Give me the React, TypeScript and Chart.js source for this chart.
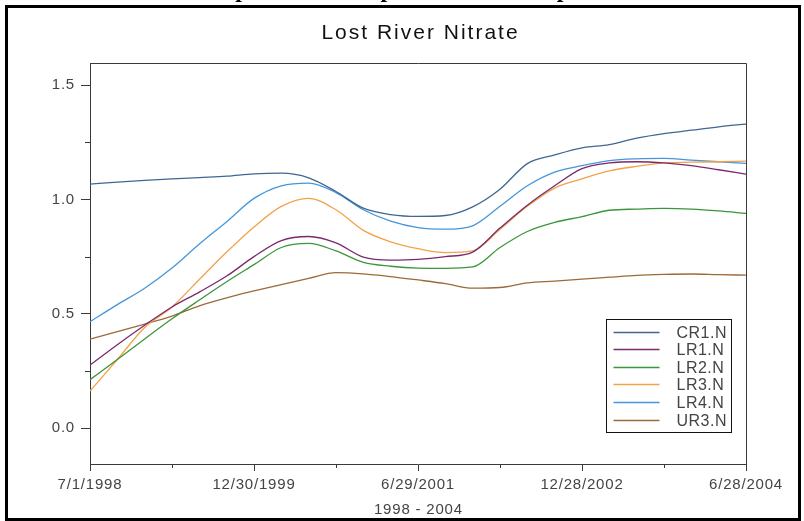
import React, { useEffect, useRef } from "react";
import { Chart, registerables } from "chart.js";

Chart.register(...registerables);

// ---------- data ----------
const pageTitle = "Example Trend Graph for Total Phosphorus";
const chartTitle = "Lost River Nitrate";
const xAxisTitle = "1998 - 2004";

// decimal years, every quarter year from 7/1/1998 to 6/28/2004
const years = [
  1998.5, 1998.75, 1999.0, 1999.25, 1999.5, 1999.75, 2000.0, 2000.25, 2000.5,
  2000.75, 2001.0, 2001.25, 2001.5, 2001.75, 2002.0, 2002.25, 2002.5, 2002.75,
  2003.0, 2003.25, 2003.5, 2003.75, 2004.0, 2004.25, 2004.5,
];

const cr1N = [
  1.067, 1.076, 1.084, 1.09, 1.096, 1.102, 1.112, 1.115, 1.095, 1.035, 0.962,
  0.934, 0.926, 0.93, 0.968, 1.045, 1.157, 1.195, 1.226, 1.24, 1.268, 1.288,
  1.303, 1.318, 1.33,
];
const lr1N = [
  0.276, 0.365, 0.45, 0.53, 0.595, 0.665, 0.75, 0.82, 0.838, 0.81, 0.748,
  0.735, 0.738, 0.75, 0.77, 0.875, 0.975, 1.06, 1.135, 1.16, 1.165, 1.16,
  1.148, 1.13, 1.111,
];
const lr2N = [
  0.212, 0.3, 0.39, 0.478, 0.56, 0.64, 0.715, 0.79, 0.808, 0.775, 0.725,
  0.708, 0.7, 0.699, 0.705, 0.79, 0.86, 0.9, 0.925, 0.953, 0.958, 0.961,
  0.958, 0.95, 0.939,
];
const lr3N = [
  0.162, 0.3, 0.44, 0.53, 0.65, 0.77, 0.88, 0.97, 1.005, 0.955, 0.865, 0.815,
  0.785, 0.768, 0.775, 0.87, 0.97, 1.05, 1.09, 1.125, 1.145, 1.16, 1.163,
  1.165, 1.168,
];
const lr4N = [
  0.465, 0.54, 0.612, 0.7, 0.805, 0.903, 1.005, 1.06, 1.072, 1.03, 0.955,
  0.905, 0.877, 0.87, 0.885, 0.97, 1.06, 1.12, 1.148, 1.17, 1.178, 1.18,
  1.172, 1.165, 1.158,
];
const ur3N = [
  0.389, 0.422, 0.455, 0.49, 0.535, 0.57, 0.6, 0.628, 0.655, 0.68, 0.675,
  0.663, 0.648, 0.632, 0.612, 0.615, 0.635, 0.643, 0.652, 0.66, 0.668, 0.672,
  0.674, 0.671, 0.669,
];

const seriesNames = ["CR1.N", "LR1.N", "LR2.N", "LR3.N", "LR4.N", "UR3.N"];
const seriesValues = [cr1N, lr1N, lr2N, lr3N, lr4N, ur3N];
const seriesColors = ["#3f6791", "#7a2a6c", "#3a963a", "#f2a24a", "#4596da", "#9c6a38"];

const xTickValues = [1998.5, 1999.25, 2000.0, 2000.75, 2001.5, 2002.25, 2003.0, 2003.75, 2004.5];
const xTickLabels = ["7/1/1998", "", "12/30/1999", "", "6/29/2001", "", "12/28/2002", "", "6/28/2004"];
const yTickValues = [0, 0.25, 0.5, 0.75, 1.0, 1.25, 1.5];
const yTickLabels = ["0.0", "", "0.5", "", "1.0", "", "1.5"];
const yMin = -0.157;
const yMax = 1.597;

// ---------- styles ----------
const FONT = '"Liberation Sans", Arial, sans-serif';
const AXIS = "#3a3a3a";
const TEXT = "#444444";

const decorPlugin = {
  id: "decor",
  beforeUpdate(chart: any) {
    chart.ctx.letterSpacing = "0.8px";
  },
  beforeDraw(chart: any) {
    chart.ctx.letterSpacing = "0.8px";
  },
  afterDraw(chart: any) {
    const ctx = chart.ctx as CanvasRenderingContext2D;
    const a = chart.chartArea;
    const xs = chart.scales.x;
    const ys = chart.scales.y;
    ctx.save();
    // top & right frame of plot area
    ctx.strokeStyle = AXIS;
    ctx.lineWidth = 1;
    ctx.beginPath();
    ctx.moveTo(Math.round(a.left), Math.round(a.top) + 0.5);
    ctx.lineTo(Math.round(a.right) + 0.5, Math.round(a.top) + 0.5);
    ctx.lineTo(Math.round(a.right) + 0.5, Math.round(a.bottom));
    ctx.stroke();
    // minor ticks
    ctx.beginPath();
    xTickValues.forEach((v, i) => {
      if (xTickLabels[i]) return;
      const px = Math.round(xs.getPixelForValue(v)) + 0.5;
      ctx.moveTo(px, a.bottom);
      ctx.lineTo(px, a.bottom + 4);
    });
    yTickValues.forEach((v, i) => {
      if (yTickLabels[i]) return;
      const py = Math.round(ys.getPixelForValue(v)) + 0.5;
      ctx.moveTo(a.left - 5, py);
      ctx.lineTo(a.left, py);
    });
    ctx.stroke();

    // chart title
    (ctx as any).letterSpacing = "2px";
    ctx.font = `21px ${FONT}`;
    ctx.fillStyle = "#111";
    ctx.textAlign = "left";
    ctx.textBaseline = "alphabetic";
    const tw = ctx.measureText(chartTitle).width - 2;
    ctx.fillText(chartTitle, (a.left + a.right) / 2 + 1.5 - tw / 2, 38.7);

    // x axis title
    (ctx as any).letterSpacing = "0.8px";
    ctx.font = `15px ${FONT}`;
    ctx.fillStyle = TEXT;
    const aw = ctx.measureText(xAxisTitle).width - 0.8;
    ctx.fillText(xAxisTitle, (a.left + a.right) / 2 - aw / 2, a.bottom + 50);

    // legend
    const bw = 125;
    const bh = 113;
    const bx = Math.round(a.right - 15 - bw) + 0.5;
    const by = Math.round(a.bottom - 32 - bh) + 0.5;
    ctx.fillStyle = "#ffffff";
    ctx.fillRect(bx, by, bw, bh);
    ctx.strokeStyle = "#111";
    ctx.lineWidth = 1;
    ctx.strokeRect(bx, by, bw, bh);
    ctx.font = `16px ${FONT}`;
    (ctx as any).letterSpacing = "0.5px";
    ctx.textBaseline = "middle";
    chart.data.datasets.forEach((ds: any, i: number) => {
      const ry = Math.round(by + 12 + i * 17.6) + 0.5;
      ctx.strokeStyle = ds.borderColor;
      ctx.lineWidth = 1.3;
      ctx.beginPath();
      ctx.moveTo(bx + 7, ry);
      ctx.lineTo(bx + 53, ry);
      ctx.stroke();
      ctx.fillStyle = TEXT;
      ctx.fillText(ds.label, bx + 70, ry + 1);
    });
    ctx.restore();
  },
};

export default function App() {
  const ref = useRef<HTMLCanvasElement | null>(null);

  useEffect(() => {
    if (!ref.current) return;
    const datasets = seriesNames.map((name, si) => ({
      label: name,
      data: years.map((x, i) => ({ x, y: seriesValues[si][i] })),
      borderColor: seriesColors[si],
      backgroundColor: seriesColors[si],
      borderWidth: 1.3,
      pointRadius: 0,
      cubicInterpolationMode: "monotone" as const,
      fill: false,
    }));

    const chart = new Chart(ref.current, {
      type: "line",
      data: { datasets },
      plugins: [decorPlugin],
      options: {
        animation: false,
        responsive: false,
        maintainAspectRatio: false,
        layout: { padding: { left: 0, top: 63, right: 58, bottom: 0 } },
        plugins: {
          legend: { display: false },
          title: { display: false },
          tooltip: { enabled: false },
        },
        scales: {
          x: {
            type: "linear",
            min: 1998.5,
            max: 2004.5,
            afterBuildTicks: (s: any) => {
              s.ticks = xTickValues.map((v) => ({ value: v }));
            },
            afterFit: (s: any) => {
              s.height = 57;
            },
            ticks: {
              autoSkip: false,
              maxRotation: 0,
              minRotation: 0,
              padding: 5,
              color: TEXT,
              font: { family: FONT, size: 15 },
              callback: (_v: any, i: number) => xTickLabels[i],
            },
            grid: {
              drawOnChartArea: false,
              drawTicks: true,
              tickLength: 7,
              tickWidth: 1,
              tickColor: (c: any) => (xTickLabels[c.index] ? AXIS : "rgba(0,0,0,0)"),
            },
            border: { display: true, color: AXIS, width: 1 },
          },
          y: {
            type: "linear",
            min: yMin,
            max: yMax,
            afterBuildTicks: (s: any) => {
              s.ticks = yTickValues.map((v) => ({ value: v }));
            },
            afterFit: (s: any) => {
              s.width = 90;
            },
            ticks: {
              padding: 6,
              color: TEXT,
              font: { family: FONT, size: 15 },
              callback: (_v: any, i: number) => yTickLabels[i],
            },
            grid: {
              drawOnChartArea: false,
              drawTicks: true,
              tickLength: 9,
              tickWidth: 1,
              tickColor: (c: any) => (yTickLabels[c.index] ? AXIS : "rgba(0,0,0,0)"),
            },
            border: { display: true, color: AXIS, width: 1 },
          },
        },
      } as any,
    });
    return () => chart.destroy();
  }, []);

  return (
    <div>
      <canvas
        ref={ref}
        width={804}
        height={521}
        style={{ position: "fixed", left: 0, top: 0, width: 804, height: 521, background: "#fff" }}
      />
      <div
        style={{
          position: "fixed",
          left: 0,
          top: -23,
          width: 804,
          textAlign: "center",
          fontFamily: '"Liberation Serif", "Times New Roman", serif',
          fontWeight: "bold",
          fontSize: 24,
          lineHeight: "24px",
          color: "#000",
          whiteSpace: "nowrap",
        }}
      >
        {pageTitle}
      </div>
      <div
        style={{
          position: "fixed",
          left: 5,
          top: 5,
          width: 796,
          height: 516,
          border: "3px solid #000",
          boxSizing: "border-box",
          pointerEvents: "none",
        }}
      />
    </div>
  );
}
